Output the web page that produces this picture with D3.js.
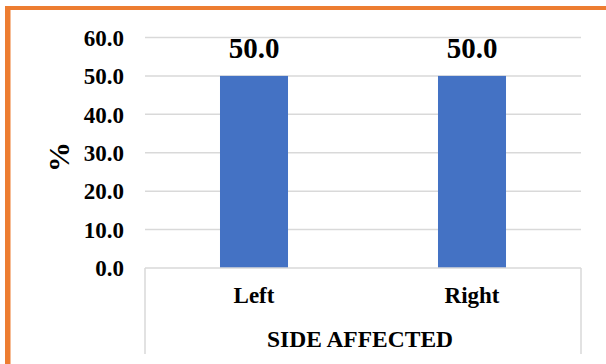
<!DOCTYPE html>
<html>
<head>
<meta charset="utf-8">
<script src="https://cdn.jsdelivr.net/npm/d3@7"></script>
<style>
  html, body { margin: 0; padding: 0; background: #ffffff; }
  svg { display: block; }
  text { font-family: "Liberation Serif", "Times New Roman", serif; font-weight: bold; fill: #000; }
</style>
</head>
<body>
<svg id="chart" width="606" height="364"></svg>
<script>
const categories = ["Left", "Right"];
const values = [50.0, 50.0];
const yTicks = [0, 10, 20, 30, 40, 50, 60];
const yTitle = "%";
const xTitle = "SIDE AFFECTED";

const W = 606, H = 364;
const svg = d3.select("#chart");

// frame (orange border, top and left visible)
svg.append("rect").attr("x", 5).attr("y", 6).attr("width", W - 5).attr("height", 4).attr("fill", "#ED7D31");
svg.append("rect").attr("x", 5).attr("y", 6).attr("width", 5.5).attr("height", H - 6).attr("fill", "#ED7D31");

const plotL = 145, plotR = 581, plotT = 37.5, plotB = 268;

const x = d3.scaleBand().domain(categories).range([plotL, plotR]).paddingInner(0.688).paddingOuter(0.344);
const y = d3.scaleLinear().domain([0, 60]).range([plotB, plotT]);

// gridlines
svg.append("g").selectAll("line").data(yTicks.filter(t => t > 0)).join("line")
  .attr("x1", plotL).attr("x2", plotR)
  .attr("y1", d => y(d)).attr("y2", d => y(d))
  .attr("stroke", "#d9d9d9").attr("stroke-width", 1.5);

// y tick labels
const yAxis = d3.axisLeft(y).tickValues(yTicks).tickFormat(d3.format(".1f")).tickSize(0).tickPadding(0);
const gy = svg.append("g").attr("transform", `translate(124,0)`).call(yAxis);
gy.select(".domain").remove();
gy.selectAll("text").attr("font-size", 23).attr("font-family", "Liberation Serif").attr("font-weight", "bold").attr("fill", "#000").attr("dy", "0.34em");

// bars
svg.append("g").selectAll("rect").data(categories).join("rect")
  .attr("x", d => x(d)).attr("width", x.bandwidth())
  .attr("y", (d, i) => y(values[i])).attr("height", (d, i) => y(0) - y(values[i]))
  .attr("fill", "#4472C4");

// data labels
svg.append("g").selectAll("text").data(categories).join("text")
  .attr("x", d => x(d) + x.bandwidth() / 2)
  .attr("y", (d, i) => y(values[i]) - 18)
  .attr("text-anchor", "middle").attr("font-size", 29)
  .text((d, i) => d3.format(".1f")(values[i]));

// x axis line and category box
svg.append("line").attr("x1", plotL).attr("x2", plotR).attr("y1", y(0)).attr("y2", y(0))
  .attr("stroke", "#d9d9d9").attr("stroke-width", 1.5);
svg.append("line").attr("x1", plotL).attr("x2", plotL).attr("y1", y(0)).attr("y2", 354)
  .attr("stroke", "#d9d9d9").attr("stroke-width", 1.5);
svg.append("line").attr("x1", plotR).attr("x2", plotR).attr("y1", y(0)).attr("y2", 354)
  .attr("stroke", "#d9d9d9").attr("stroke-width", 1.5);

// category labels
const xAxis = d3.axisBottom(x).tickSize(0).tickPadding(0);
const gx = svg.append("g").attr("transform", `translate(0,${y(0)})`).call(xAxis);
gx.select(".domain").remove();
gx.selectAll("text").attr("font-size", 23).attr("font-family", "Liberation Serif").attr("font-weight", "bold").attr("fill", "#000")
  .attr("y", 35).attr("dy", 0);

// axis titles
svg.append("text").attr("x", (plotL + plotR) / 2 - 3).attr("y", 347)
  .attr("text-anchor", "middle").attr("font-size", 23.5).text(xTitle);
svg.append("text").attr("transform", `translate(69,157) rotate(-90)`)
  .attr("text-anchor", "middle").attr("font-size", 30).text(yTitle);
</script>
</body>
</html>
